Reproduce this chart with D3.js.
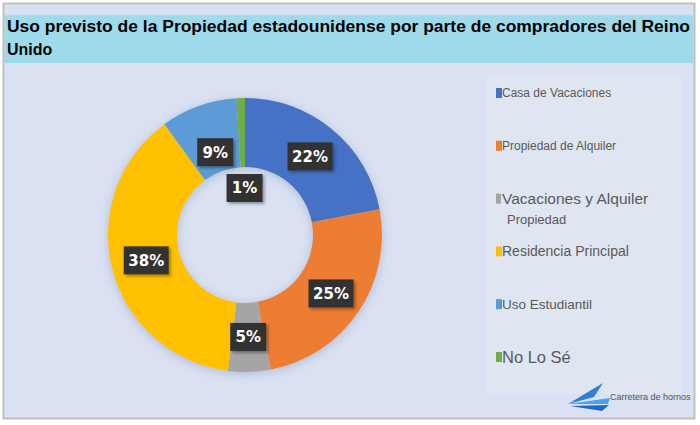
<!DOCTYPE html>
<html><head><meta charset="utf-8">
<script src="https://cdn.jsdelivr.net/npm/d3@7"></script>
<style>body{margin:0;background:#fff;}svg{display:block;}</style>
</head><body>
<svg id="c" width="700" height="425"></svg>
<script>
const categories = ["Casa de Vacaciones","Propiedad de Alquiler","Vacaciones y Alquiler","Residencia Principal","Uso Estudiantil","No Lo Sé"];
const values = [22,25,5,38,9,1];
const labels = ["22%","25%","5%","38%","9%","1%"];
const colors = ["#4472c4","#ed7d31","#a5a5a5","#ffc000","#5b9bd5","#70ad47"];
const legendSub = ["","","Propiedad","","",""];
const legendSizes = [12,12,15.5,14,13.5,16.5];
const titleLines = ["Uso previsto de la Propiedad estadounidense por parte de compradores del Reino","Unido"];

const svg = d3.select("#c");
const defs = svg.append("defs");
const sh = defs.append("filter").attr("id","sh").attr("x","-20%").attr("y","-20%").attr("width","140%").attr("height","140%");
sh.append("feDropShadow").attr("dx",0).attr("dy",2).attr("stdDeviation",5).attr("flood-color","#7f8fb0").attr("flood-opacity",0.45);
const bsh = defs.append("filter").attr("id","bsh").attr("x","-30%").attr("y","-30%").attr("width","160%").attr("height","160%");
bsh.append("feDropShadow").attr("dx",2).attr("dy",2).attr("stdDeviation",1.5).attr("flood-color","#000").attr("flood-opacity",0.35);

// frame
svg.append("rect").attr("x",3.5).attr("y",3.5).attr("width",691).attr("height",415).attr("fill","#d9e1f2").attr("stroke","#bfbfbf").attr("stroke-width",2);
// title band
svg.append("rect").attr("x",4.5).attr("y",15).attr("width",689).attr("height",48).attr("fill","#9fdaea");
svg.append("line").attr("x1",4.5).attr("x2",693.5).attr("y1",15).attr("y2",15).attr("stroke","#b8e4ef");
titleLines.forEach((t,i)=>{
  const tx = svg.append("text").attr("x",7).attr("y",32+i*23).attr("font-family","Liberation Sans, Arial, sans-serif")
    .attr("font-weight","bold").attr("font-size",16).attr("fill","#000").text(t);
  if(i===0) tx.attr("textLength",683).attr("lengthAdjust","spacingAndGlyphs");
});

// donut
const cx=245, cy=235, rOut=137, rIn=68;
const pie = d3.pie().sort(null).value(d=>d)(values);
const arc = d3.arc().innerRadius(rIn).outerRadius(rOut);
const g = svg.append("g").attr("transform",`translate(${cx},${cy})`);
g.append("g").attr("filter","url(#sh)").selectAll("path").data(pie).join("path")
  .attr("d",arc).attr("fill",(d,i)=>colors[i]);

const labelR = [102,104,102,102,88,47];
pie.forEach((d,i)=>{
  const la = d3.arc().innerRadius(labelR[i]).outerRadius(labelR[i]);
  const [x,y] = (i===5) ? d3.arc().innerRadius(47).outerRadius(47).startAngle(d.endAngle-0.01).endAngle(d.endAngle-0.01).centroid() : la.centroid(d);
  const t = labels[i];
  const w = t.length===3 ? 45 : 36, h = 28;
  const lg = g.append("g").attr("transform",`translate(${x},${y})`);
  lg.append("rect").attr("x",-w/2).attr("y",-h/2).attr("width",w).attr("height",h).attr("fill","#333333").attr("filter","url(#bsh)");
  lg.append("text").attr("text-anchor","middle").attr("dy","0.36em").attr("font-family","DejaVu Sans, Verdana, sans-serif")
    .attr("font-weight","bold").attr("font-size",15).attr("fill","#ffffff").text(t);
});

// legend
svg.append("rect").attr("x",487).attr("y",76).attr("width",195).attr("height",318).attr("fill","#dfe6f2");
const ly = d3.scalePoint().domain(categories).range([93,357]);
categories.forEach((c,i)=>{
  const y = ly(c);
  const s = legendSizes[i];
  svg.append("rect").attr("x",496).attr("y",y-5).attr("width",i===2?5:6).attr("height",10).attr("fill",colors[i]);
  svg.append("text").attr("x",502).attr("y",y).attr("dy","0.35em").attr("font-family","Liberation Sans, Arial, sans-serif")
    .attr("font-size",s).attr("fill","#595959").text(c);
  if(legendSub[i]) svg.append("text").attr("x",507).attr("y",y+21).attr("dy","0.35em").attr("font-family","Liberation Sans, Arial, sans-serif")
    .attr("font-size",13).attr("fill","#595959").text(legendSub[i]);
});

// logo
const lgo = svg.append("g");
lgo.append("path").attr("d","M568,404 L603,383 L594,397 Z").attr("fill","#2f7fd6");
lgo.append("path").attr("d","M568,404 L610,398 L608,404 Z").attr("fill","#4aa3ee");
lgo.append("path").attr("d","M570,406 L609,405 L602,411 Z").attr("fill","#1d6cc8");
svg.append("text").attr("x",610).attr("y",400).attr("font-family","Liberation Sans, Arial, sans-serif").attr("font-size",9).attr("fill","#555").text("Carretera de hornos");
</script>
</body></html>
